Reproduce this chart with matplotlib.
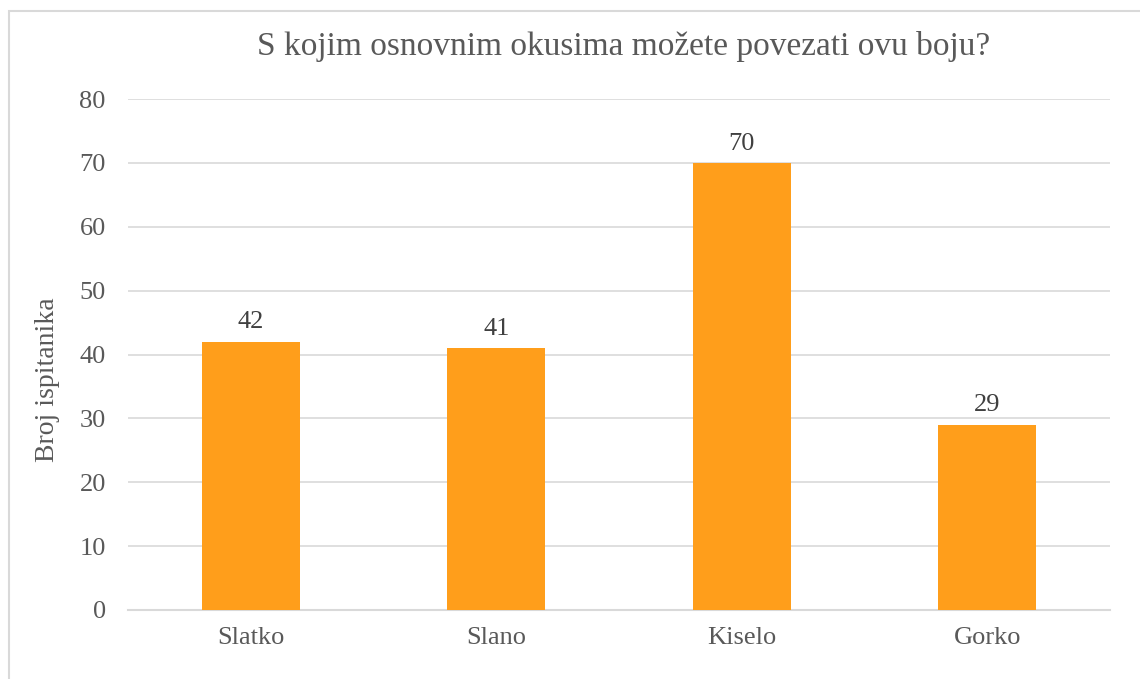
import matplotlib
matplotlib.use('agg')
import matplotlib.pyplot as plt
from matplotlib.patches import Rectangle

categories = ["Slatko", "Slano", "Kiselo", "Gorko"]
values = [42, 41, 70, 29]
title = "S kojim osnovnim okusima možete povezati ovu boju?"
ylabel = "Broj ispitanika"

txt = '#595959'
grid_c = '#d9d9d9'
bar_c = '#ff9e1b'

plt.rcParams['font.family'] = ['Liberation Serif', 'DejaVu Serif']

fig = plt.figure(figsize=(11.4, 6.79), dpi=100)
ax = fig.add_axes([128/1140, 1 - 610/679, 982/1140, 511/679])

# outer frame like the office chart border
fig.patches.append(Rectangle((9/1140, -0.05), 1.2, 1 - 11/679 + 0.05,
                             transform=fig.transFigure, fill=False,
                             edgecolor=grid_c, lw=1.5))

x = range(len(categories))
bars = ax.bar(x, values, width=0.4, color=bar_c, zorder=3)
for b, v in zip(bars, values):
    ax.text(b.get_x() + b.get_width()/2, v + 1.3, str(v), ha='center', va='bottom',
            fontsize=19, color='#404040')

ax.set_xlim(-0.5, len(categories) - 0.5)
ax.set_ylim(0, 80)
ax.set_yticks(range(0, 81, 10))
ax.set_xticks(list(x))
ax.set_xticklabels(categories)
ax.yaxis.grid(True, color=grid_c, lw=1.2, zorder=0)
ax.tick_params(axis='both', length=0, labelsize=19, labelcolor=txt)
ax.tick_params(axis='y', pad=16)
ax.tick_params(axis='x', pad=12)
for s in ['top', 'right', 'left']:
    ax.spines[s].set_visible(False)
ax.spines['bottom'].set_color(grid_c)
ax.spines['bottom'].set_linewidth(1.5)

fig.text(48/1140, 1 - 380/679, ylabel, rotation=90, ha='center', va='center',
         fontsize=20, color=txt)
fig.text(624/1140, 1 - 47/679, title, ha='center', va='center', fontsize=24, color=txt)

fig.savefig('out.png', dpi=100)
